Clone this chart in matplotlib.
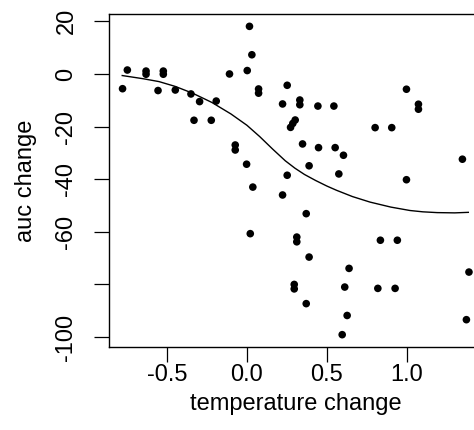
from __future__ import annotations

import matplotlib

matplotlib.use("Agg")
import matplotlib.pyplot as plt
import numpy as np


# scatter points
temp_change = [
    -0.778, -0.748, -0.631, -0.631, -0.523, -0.523, -0.556, -0.448, -0.350, -0.296,
    -0.192, -0.331, -0.223, -0.109, 0.016, 0.031, 0.002, 0.073, 0.073, 0.252,
    0.223, 0.331, 0.331, 0.444, 0.544, 0.302, 0.287, 0.273, -0.073, -0.073,
    -0.002, 0.348, 0.448, 0.552, 0.604, 0.389, 0.252, 0.575, 0.998, 1.073,
    1.073, 0.802, 0.906, 1.348, 0.998, 0.037, 0.223, 0.371, 0.021, 0.312,
    0.312, 0.389, 0.639, 0.296, 0.296, 0.612, 0.371, 0.627, 0.596, 0.835,
    0.941, 0.819, 0.927, 1.389, 1.373,
]
auc_change = [
    -5.6, 1.5, 1.1, -0.1, 1.1, -0.1, -6.3, -6.1, -7.6, -10.5,
    -10.3, -17.6, -17.6, 0.0, 18.1, 7.3, 1.3, -5.7, -7.3, -4.3,
    -11.4, -9.9, -11.7, -12.2, -12.2, -17.5, -18.8, -20.3, -27.0, -28.9,
    -34.3, -26.6, -28.0, -28.0, -30.9, -34.9, -38.5, -38.0, -5.8, -11.5,
    -13.4, -20.4, -20.4, -32.4, -40.2, -43.0, -46.0, -53.1, -60.7, -62.0,
    -63.8, -69.6, -73.9, -80.0, -81.7, -81.0, -87.3, -91.8, -99.1, -63.2,
    -63.2, -81.5, -81.5, -75.3, -93.4,
]

# smoothed trend line
smooth_x = [
    -0.78, -0.65, -0.55, -0.45, -0.34, -0.22, -0.10, 0.00, 0.08, 0.16,
    0.24, 0.30, 0.36, 0.43, 0.50, 0.56, 0.66, 0.77, 0.90, 1.02,
    1.10, 1.19, 1.30, 1.385,
]
smooth_y = [
    -0.6, -1.8, -2.9, -4.7, -7.3, -10.8, -15.2, -19.5, -23.8, -28.5,
    -33.0, -35.8, -38.2, -40.5, -42.6, -44.2, -46.6, -48.7, -50.6, -51.9,
    -52.4, -52.7, -52.8, -52.6,
]

x_ticks = [-0.5, 0.0, 0.5, 1.0]
x_tick_labels = ["-0.5", "0.0", "0.5", "1.0"]
y_ticks = [20, 0, -20, -40, -60, -80, -100]
y_tick_labels = ["20", "0", "-20", "-40", "-60", "", "-100"]

FONT_SIZE = 17


def r_limits(values: list[float]) -> tuple[float, float]:
    # R pads the data range by 4% on each side
    lo, hi = min(values), max(values)
    pad = (hi - lo) * 0.04
    return lo - pad, hi + pad


def main() -> None:
    plt.rcParams["font.family"] = ["Liberation Sans", "DejaVu Sans"]

    fig = plt.figure(figsize=(4.74, 4.30), dpi=100)
    # right edge of the box falls outside the image, like the reference crop
    ax = fig.add_axes([0.2293, 0.193, 0.7893, 0.7744])

    ax.scatter(temp_change, auc_change, s=30, color="black", edgecolors="none", zorder=3)
    ax.plot(smooth_x, smooth_y, color="black", linewidth=1.0, zorder=2)

    ax.set_xlim(*r_limits(temp_change))
    ax.set_ylim(*r_limits(auc_change))

    ax.set_xticks(x_ticks)
    ax.set_xticklabels(x_tick_labels)
    ax.set_yticks(y_ticks)
    ax.set_yticklabels(y_tick_labels, rotation=90, va="center")

    ax.tick_params(axis="both", direction="out", length=10.5, width=0.9,
                   labelsize=FONT_SIZE, color="black")
    ax.tick_params(axis="x", pad=1.5)
    ax.tick_params(axis="y", pad=12)

    for spine in ax.spines.values():
        spine.set_linewidth(1.0)
        spine.set_color("black")

    ax.set_xlabel("temperature change", fontsize=FONT_SIZE, labelpad=5)
    ax.set_ylabel("auc change", fontsize=FONT_SIZE, labelpad=13)

    fig.savefig("out.png", dpi=100)
    plt.close(fig)


if __name__ == "__main__":
    main()
